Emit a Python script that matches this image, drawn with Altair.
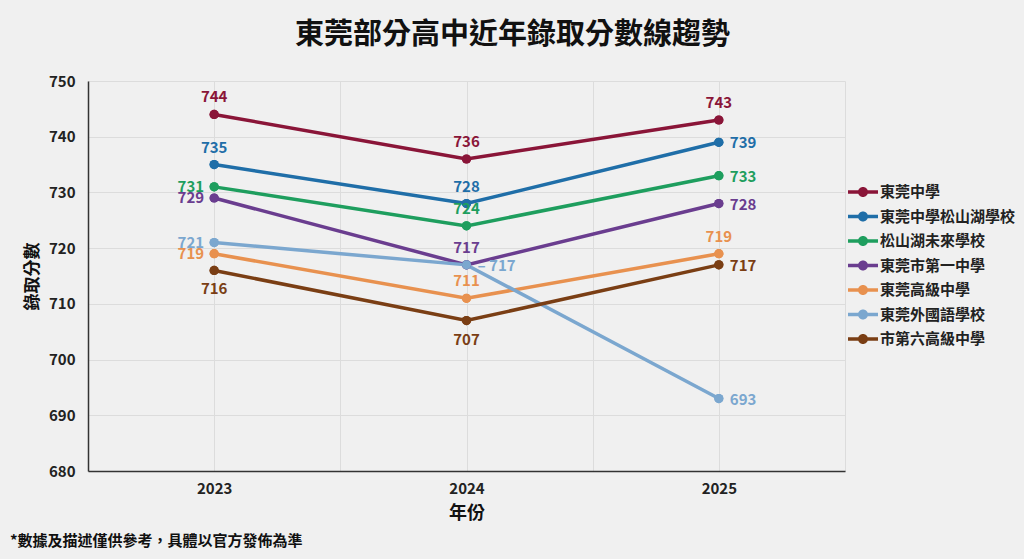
import altair as alt
import pandas as pd

FONT = "Noto Sans CJK TC"

years = [2023, 2024, 2025]
schools = ["東莞中學", "東莞中學松山湖學校", "松山湖未來學校", "東莞市第一中學",
           "東莞高級中學", "東莞外國語學校", "市第六高級中學"]
dg_high = [744, 736, 743]
dg_sslake = [735, 728, 739]
sslake_future = [731, 724, 733]
dg_first = [729, 717, 728]
dg_senior = [719, 711, 719]
dg_foreign = [721, 717, 693]
sixth_senior = [716, 707, 717]
series = [dg_high, dg_sslake, sslake_future, dg_first, dg_senior, dg_foreign, sixth_senior]

colors = ["#8a1538", "#1f6ea8", "#1e9e5e", "#6a3d8f", "#e8914f", "#7ba7cf", "#7a3e14"]

# label placement per school / year (layout only)
placements = [
    ["above", "above", "above"],
    ["above", "above", "right"],
    ["left", "above", "right"],
    ["left", "above", "right"],
    ["left", "above", "above"],
    ["left", "right", "right"],
    ["below", "below", "right"],
]

rows = []
for name, vals, places in zip(schools, series, placements):
    for yr, v, p in zip(years, vals, places):
        rows.append({"year": yr, "school": name, "score": v, "pos": p, "label": str(v)})
df = pd.DataFrame(rows)
df.loc[(df.school == "東莞外國語學校") & (df.year == 2024), "label"] = "– 717"

color_scale = alt.Scale(domain=schools, range=colors)

x = alt.X(
    "year:Q",
    scale=alt.Scale(domain=[2022.5, 2025.5], nice=False, zero=False),
    axis=alt.Axis(
        values=[2022.5, 2023, 2023.5, 2024, 2024.5, 2025, 2025.5],
        labelExpr="datum.value % 1 == 0 ? format(datum.value, 'd') : ''",
        title="年份",
        titleFontSize=18,
        titlePadding=8,
        labelPadding=10,
    ),
)
y = alt.Y(
    "score:Q",
    scale=alt.Scale(domain=[680, 750], nice=False, zero=False),
    axis=alt.Axis(
        values=list(range(680, 751, 10)),
        title="錄取分數",
        titleFontSize=17,
        titlePadding=7,
        labelPadding=13,
    ),
)

legend_symbol = "M-1,-0.175H2V0.175H-1Z M1,0A0.5,0.5,0,1,1,0,0A0.5,0.5,0,1,1,1,0Z"
legend = alt.Legend(
    orient="none",
    legendX=760,
    legendY=101,
    title=None,
    symbolType=legend_symbol,
    symbolSize=400,
    symbolStrokeWidth=0,
    labelFont=FONT,
    labelFontSize=15,
    labelFontWeight="bold",
    labelColor="#222222",
    labelOffset=12,
    labelLimit=300,
    rowPadding=6.5,
    padding=0,
)
color_enc = alt.Color("school:N", scale=color_scale, legend=legend)

base = alt.Chart(df).encode(x=x, y=y, color=color_enc)

points_under = base.mark_point(filled=True, size=85, opacity=1)
lines = base.mark_line(strokeWidth=3.5)
points = base.mark_point(filled=True, size=85, opacity=1)

label_specs = {
    "above": dict(align="center", baseline="middle", dx=0, dy=-17),
    "below": dict(align="center", baseline="middle", dx=0, dy=19),
    "left": dict(align="right", baseline="middle", dx=-10, dy=0),
    "right": dict(align="left", baseline="middle", dx=11, dy=1),
}
texts = []
for pos, spec in label_specs.items():
    texts.append(
        base.transform_filter(alt.datum.pos == pos)
        .mark_text(font=FONT, fontSize=15, fontWeight="bold", **spec)
        .encode(text="label:N")
    )

footnote = alt.Chart(pd.DataFrame({"t": ["*數據及描述僅供參考，具體以官方發佈為準"]})).mark_text(
    align="left", baseline="middle", font=FONT, fontSize=15, fontWeight="bold", color="#111111"
).encode(x=alt.value(-78), y=alt.value(460), text="t:N")

chart = alt.layer(points_under, lines, points, *texts, footnote).properties(
    width=757,
    height=390,
    autosize=alt.AutoSizeParams(type="none"),
    padding={"left": 88, "top": 81, "right": 179, "bottom": 88},
    background="#f0f0f0",
    title=alt.TitleParams(
        "東莞部分高中近年錄取分數線趨勢",
        font=FONT,
        fontSize=29,
        fontWeight="bold",
        color="#111111",
        anchor="middle",
        frame="group",
        dx=46,
        offset=24,
    ),
).configure_view(stroke=None).configure_axis(
    labelFont=FONT,
    labelFontSize=15,
    labelFontWeight="bold",
    labelColor="#222222",
    titleFont=FONT,
    titleFontWeight="bold",
    titleColor="#111111",
    domainColor="#333333",
    domainWidth=1.5,
    ticks=False,
    gridColor="#dcdcdc",
    gridWidth=1,
)

chart.save("out.html", embed_options={"renderer": "svg", "actions": False})
